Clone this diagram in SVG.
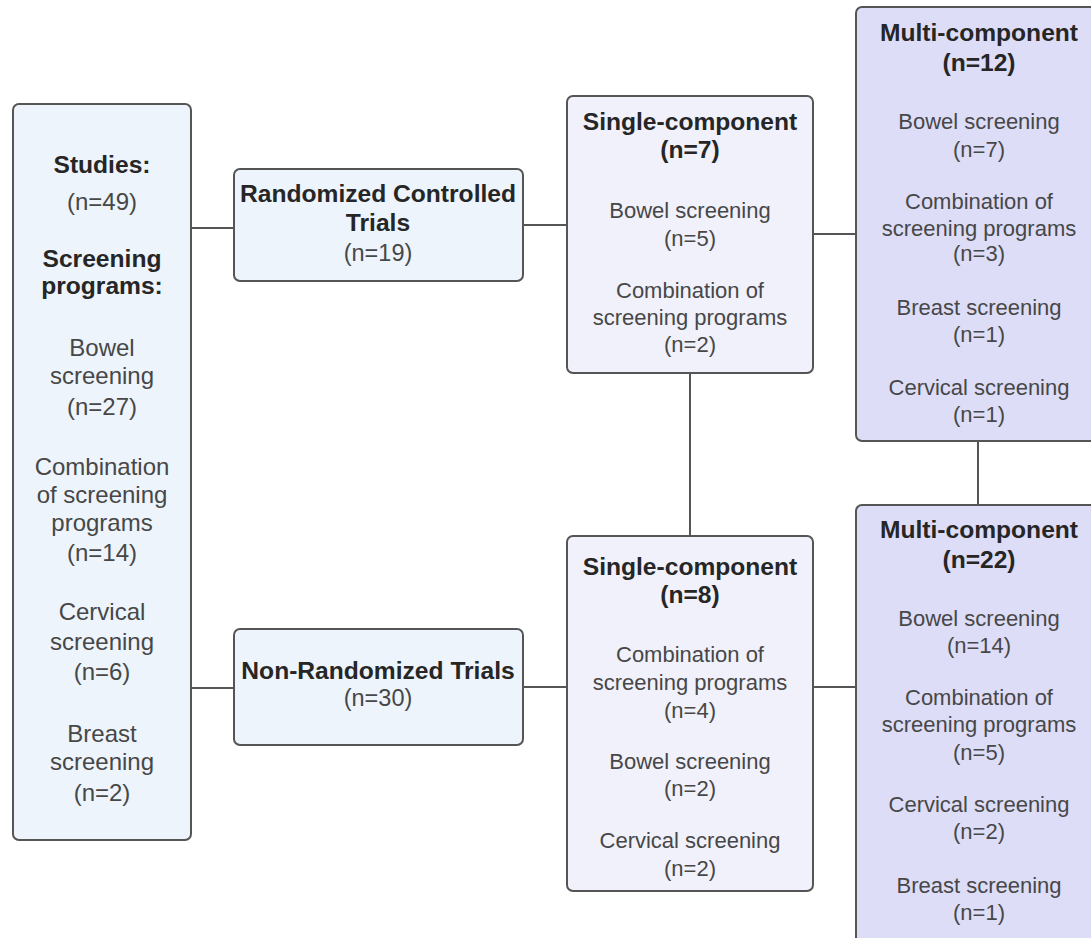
<svg xmlns="http://www.w3.org/2000/svg" width="1091" height="938" viewBox="0 0 1091 938">
<style>
.box{stroke:#555;stroke-width:2}
.blue{fill:#EDF4FC}
.light{fill:#F1F1FB}
.lav{fill:#DDDDF8}
.conn{stroke:#555;stroke-width:2;fill:none}
text{font-family:"Liberation Sans",Arial,sans-serif;text-anchor:middle}
.t{font-size:24.6px;font-weight:bold;fill:#262626}
.b{font-size:22px;fill:#474747}
.bl{font-size:24px;fill:#474747}
.bm{font-size:23.5px;fill:#474747}
</style>
<rect width="1091" height="938" fill="#fff"/>
<g id="connectors">
<line class="conn" x1="191" y1="228" x2="234" y2="228"/>
<line class="conn" x1="191" y1="688" x2="234" y2="688"/>
<line class="conn" x1="523" y1="225" x2="567" y2="225"/>
<line class="conn" x1="523" y1="687" x2="567" y2="687"/>
<line class="conn" x1="813" y1="234" x2="856" y2="234"/>
<line class="conn" x1="813" y1="687" x2="856" y2="687"/>
<line class="conn" x1="690" y1="373" x2="690" y2="536"/>
<line class="conn" x1="978" y1="441" x2="978" y2="505"/>
</g>
<g id="studies">
<rect class="box blue" x="13" y="104" width="178" height="736" rx="6"/>
<text class="t" x="102" y="173">Studies:</text>
<text class="bl" x="102" y="210">(n=49)</text>
<text class="t" x="102" y="267">Screening</text>
<text class="t" x="102" y="294">programs:</text>
<text class="bl" x="102" y="356">Bowel</text>
<text class="bl" x="102" y="384">screening</text>
<text class="bl" x="102" y="415">(n=27)</text>
<text class="bl" x="102" y="475">Combination</text>
<text class="bl" x="102" y="503">of screening</text>
<text class="bl" x="102" y="531">programs</text>
<text class="bl" x="102" y="561">(n=14)</text>
<text class="bl" x="102" y="620">Cervical</text>
<text class="bl" x="102" y="650">screening</text>
<text class="bl" x="102" y="680">(n=6)</text>
<text class="bl" x="102" y="742">Breast</text>
<text class="bl" x="102" y="770">screening</text>
<text class="bl" x="102" y="801">(n=2)</text>
</g>
<g id="rct">
<rect class="box blue" x="234" y="169" width="289" height="112" rx="6"/>
<text class="t" x="378" y="202">Randomized Controlled</text>
<text class="t" x="378" y="231">Trials</text>
<text class="bm" x="378" y="261">(n=19)</text>
</g>
<g id="nrt">
<rect class="box blue" x="234" y="629" width="289" height="116" rx="6"/>
<text class="t" x="378" y="679">Non-Randomized Trials</text>
<text class="bm" x="378" y="706">(n=30)</text>
</g>
<g id="single-rct">
<rect class="box light" x="567" y="96" width="246" height="277" rx="6"/>
<text class="t" x="690" y="130">Single-component</text>
<text class="t" x="690" y="158">(n=7)</text>
<text class="b" x="690" y="218">Bowel screening</text>
<text class="b" x="690" y="246">(n=5)</text>
<text class="b" x="690" y="298">Combination of</text>
<text class="b" x="690" y="325">screening programs</text>
<text class="b" x="690" y="352">(n=2)</text>
</g>
<g id="multi-rct">
<rect class="box lav" x="856" y="7" width="246" height="434" rx="6"/>
<text class="t" x="979" y="41">Multi-component</text>
<text class="t" x="979" y="71">(n=12)</text>
<text class="b" x="979" y="129">Bowel screening</text>
<text class="b" x="979" y="157">(n=7)</text>
<text class="b" x="979" y="209">Combination of</text>
<text class="b" x="979" y="236">screening programs</text>
<text class="b" x="979" y="261">(n=3)</text>
<text class="b" x="979" y="315">Breast screening</text>
<text class="b" x="979" y="342">(n=1)</text>
<text class="b" x="979" y="395">Cervical screening</text>
<text class="b" x="979" y="422">(n=1)</text>
</g>
<g id="single-nrt">
<rect class="box light" x="567" y="536" width="246" height="355" rx="6"/>
<text class="t" x="690" y="575">Single-component</text>
<text class="t" x="690" y="603">(n=8)</text>
<text class="b" x="690" y="662">Combination of</text>
<text class="b" x="690" y="690">screening programs</text>
<text class="b" x="690" y="718">(n=4)</text>
<text class="b" x="690" y="769">Bowel screening</text>
<text class="b" x="690" y="796">(n=2)</text>
<text class="b" x="690" y="848">Cervical screening</text>
<text class="b" x="690" y="876">(n=2)</text>
</g>
<g id="multi-nrt">
<rect class="box lav" x="856" y="505" width="246" height="440" rx="6"/>
<text class="t" x="979" y="538">Multi-component</text>
<text class="t" x="979" y="568">(n=22)</text>
<text class="b" x="979" y="626">Bowel screening</text>
<text class="b" x="979" y="653">(n=14)</text>
<text class="b" x="979" y="705">Combination of</text>
<text class="b" x="979" y="732">screening programs</text>
<text class="b" x="979" y="760">(n=5)</text>
<text class="b" x="979" y="812">Cervical screening</text>
<text class="b" x="979" y="839">(n=2)</text>
<text class="b" x="979" y="893">Breast screening</text>
<text class="b" x="979" y="920">(n=1)</text>
</g>
</svg>
